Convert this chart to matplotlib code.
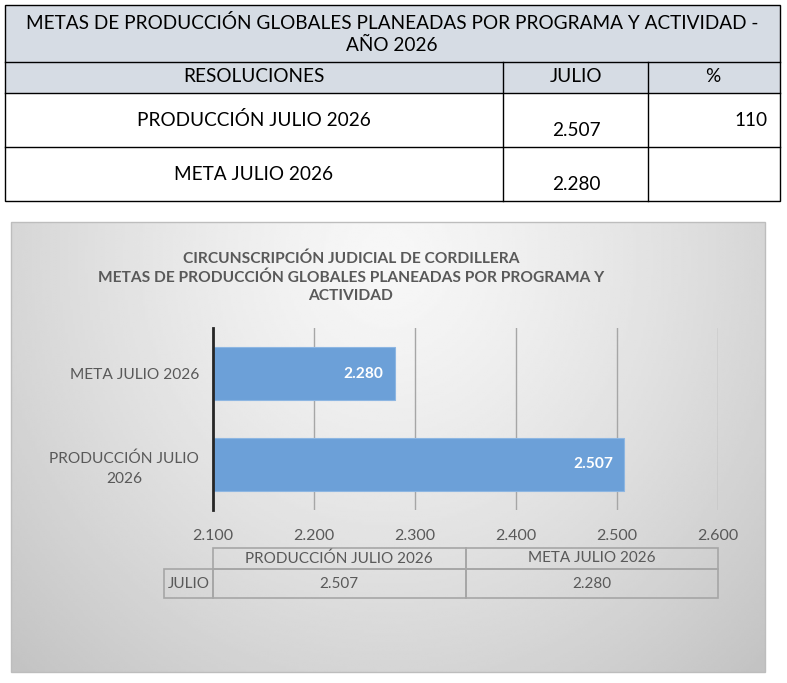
import numpy as np
import matplotlib.pyplot as plt
from matplotlib.patches import Rectangle

plt.rcParams['font.family'] = ['Lato', 'DejaVu Sans']

# data
table_title = 'METAS DE PRODUCCIÓN GLOBALES PLANEADAS POR PROGRAMA Y ACTIVIDAD -\nAÑO 2026'
table_header = ['RESOLUCIONES', 'JULIO', '%']
row_labels = ['PRODUCCIÓN JULIO 2026', 'META JULIO 2026']
row_values = ['2.507', '2.280']
row_percent = ['110', '']

chart_title = ('CIRCUNSCRIPCIÓN JUDICIAL DE CORDILLERA\n'
               'METAS DE PRODUCCIÓN GLOBALES PLANEADAS POR PROGRAMA Y\nACTIVIDAD')
categories = ['PRODUCCIÓN JULIO\n2026', 'META JULIO 2026']
values = [2507, 2280]
xticks = [2100, 2200, 2300, 2400, 2500, 2600]
xtick_labels = ['2.100', '2.200', '2.300', '2.400', '2.500', '2.600']
dt_columns = ['PRODUCCIÓN JULIO 2026', 'META JULIO 2026']
dt_row = 'JULIO'


def fmt(v):
    return '{:.3f}'.format(v / 1000)


W, H = 787, 683
fig = plt.figure(figsize=(W / 100, H / 100), dpi=100)

# background layer in pixel coordinates
bg = fig.add_axes([0, 0, 1, 1], zorder=0)
bg.set_xlim(0, W)
bg.set_ylim(H, 0)
bg.axis('off')

# ---- top table ----
band = '#D6DCE4'
bg.add_patch(Rectangle((5, 5), 775, 88, facecolor=band, edgecolor='none'))
bg.add_patch(Rectangle((5, 5), 775, 196, facecolor='none', edgecolor='black', lw=1))
for yy in [62, 93, 147]:
    bg.plot([5, 780], [yy, yy], color='black', lw=1)
for xx in [503, 648]:
    bg.plot([xx, xx], [62, 201], color='black', lw=1)

tfs = 13.7
bg.text(392, 34, table_title, ha='center', va='center', fontsize=tfs,
        linespacing=1.3)
for txt, xx in zip(table_header, [254, 576, 713]):
    bg.text(xx, 77, txt, ha='center', va='center', fontsize=tfs)
for i, (lab, val, pct) in enumerate(zip(row_labels, row_values, row_percent)):
    top = 93 + i * 54
    bg.text(254, top + 27, lab, ha='center', va='center', fontsize=tfs)
    bg.text(576, top + 38, val, ha='center', va='center', fontsize=tfs)
    bg.text(768, top + 27, pct, ha='right', va='center', fontsize=tfs)

# ---- chart area gradient ----
gx = np.linspace(0, 1, 300)
gy = np.linspace(0, 1, 200)
GX, GY = np.meshgrid(gx, gy)
r = np.sqrt(((GX - 0.5) / 0.72) ** 2 + ((GY - 0.08) / 1.3) ** 2)
shade = 0.97 - 0.21 * np.clip(r, 0, 1) ** 1.3
bg.imshow(shade, cmap='gray', vmin=0, vmax=1, extent=(11, 765, 672, 222),
          aspect='auto', interpolation='bilinear', zorder=1)
bg.add_patch(Rectangle((11, 222), 754, 450, facecolor='none',
                       edgecolor='#BDBDBD', lw=1, zorder=2))

bg.text(351, 277, chart_title, ha='center', va='center', fontsize=11.2,
        fontweight='bold', color='#595959', linespacing=1.38, zorder=3)

# ---- bar chart ----
x0, x1, y_top, y_bot = 213, 718, 328, 510
ax = fig.add_axes([x0 / W, 1 - y_bot / H, (x1 - x0) / W, (y_bot - y_top) / H],
                  zorder=2)
ax.patch.set_visible(False)
pos = np.arange(len(categories))
bars = ax.barh(pos, values, height=0.59, color='#6CA0D8', edgecolor='#8DB6E2',
               lw=0.8, zorder=3)
ax.set_xlim(xticks[0], xticks[-1])
ax.set_ylim(-0.5, len(categories) - 0.5)
ax.set_xticks(xticks)
ax.set_xticklabels(xtick_labels)
ax.set_yticks(pos)
ax.set_yticklabels(categories, multialignment='center', linespacing=1.55)
ax.tick_params(axis='x', length=0, pad=14, labelsize=11.5, labelcolor='#595959')
ax.tick_params(axis='y', length=0, pad=10, labelsize=11.2, labelcolor='#595959')
ax.grid(axis='x', color='#A6A6A6', lw=1, zorder=1)
for s in ['top', 'right', 'bottom']:
    ax.spines[s].set_visible(False)
ax.spines['left'].set_color('#262626')
ax.spines['left'].set_linewidth(2)
ax.spines['left'].set_zorder(4)

for b, v in zip(bars, values):
    ax.text(v - 11, b.get_y() + b.get_height() / 2, fmt(v), ha='right',
            va='center', color='white', fontweight='bold', fontsize=11.2, zorder=5)

# ---- data table below the axis ----
lab_w = (213 - 164) / (x1 - x0)
tab = ax.table(cellText=[[dt_row] + [fmt(v) for v in values]],
               colLabels=[''] + dt_columns,
               colWidths=[lab_w, 0.5, 0.5], cellLoc='center',
               bbox=[-lab_w, -(598 - y_bot) / (y_bot - y_top), 1 + lab_w,
                     (598 - 548) / (y_bot - y_top)])
tab.auto_set_font_size(False)
tab.set_fontsize(11)
for (rr, cc), cell in tab.get_celld().items():
    cell.set_edgecolor('#A6A6A6')
    cell.set_linewidth(1.2)
    cell.set_facecolor('none')
    cell.get_text().set_color('#595959')
    cell.set_height(21 if rr == 0 else 29)
tab[0, 0].visible_edges = ''

fig.savefig('out.png', dpi=100)
